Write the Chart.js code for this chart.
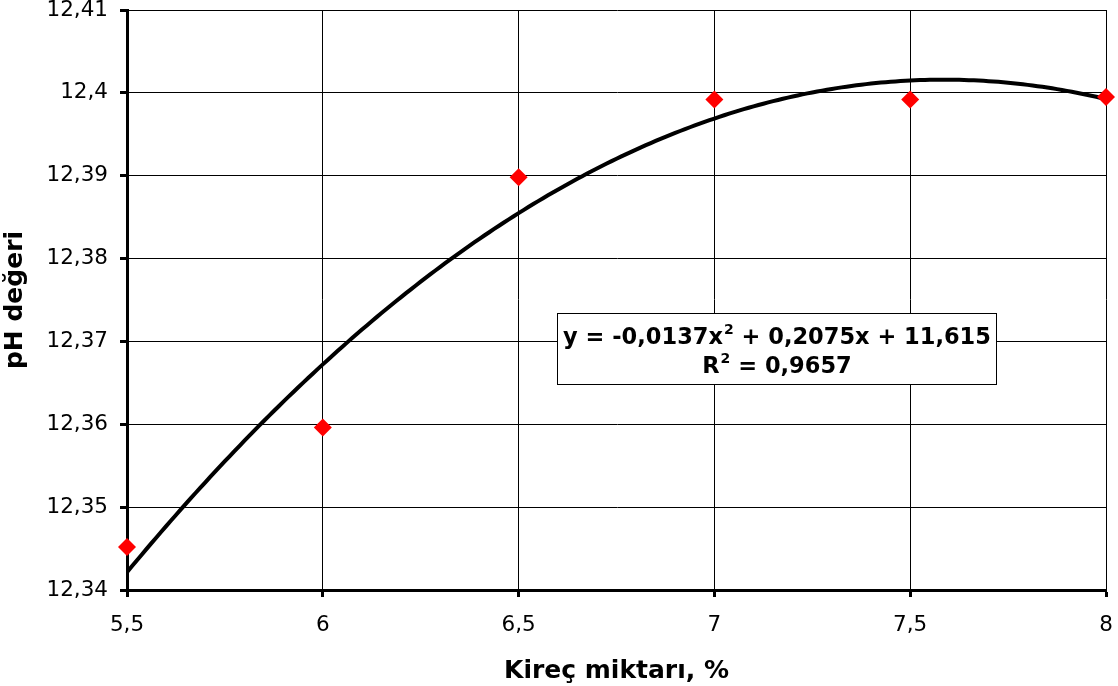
<!DOCTYPE html>
<html>
<head>
<meta charset="utf-8">
<script src="https://cdn.jsdelivr.net/npm/chart.js@4.4.0/dist/chart.umd.min.js"></script>
<style>
html,body{margin:0;padding:0;background:#fff;}
#wrap{width:1118px;height:686px;position:relative;}
</style>
</head>
<body>
<div id="wrap"><canvas id="c" width="1118" height="686"></canvas></div>
<script>
const kirecMiktari = [5.5, 6, 6.5, 7, 7.5, 8];
const phDegeri = [12.3452, 12.3596, 12.3898, 12.3992, 12.3992, 12.3995];
const xTicks = [5.5, 6, 6.5, 7, 7.5, 8];
const yTicks = [12.34, 12.35, 12.36, 12.37, 12.38, 12.39, 12.40, 12.41];
const equationText = ["y = -0,0137x", "2", " + 0,2075x + 11,615"];
const r2Text = ["R", "2", " = 0,9657"];
const xTitle = "Kireç miktarı, %";
const yTitle = "pH değeri";

// least-squares quadratic fit of the data (as the spreadsheet trendline)
function quadFit(xs, ys) {
  let S = [0,0,0,0,0], T = [0,0,0];
  for (let i = 0; i < xs.length; i++) {
    let p = 1;
    for (let k = 0; k < 5; k++) { S[k] += p; if (k < 3) T[k] += p * ys[i]; p *= xs[i]; }
  }
  const A = [[S[0],S[1],S[2],T[0]],[S[1],S[2],S[3],T[1]],[S[2],S[3],S[4],T[2]]];
  for (let i = 0; i < 3; i++) {
    for (let j = i+1; j < 3; j++) {
      const f = A[j][i] / A[i][i];
      for (let k = i; k < 4; k++) A[j][k] -= f * A[i][k];
    }
  }
  const c = [0,0,0];
  for (let i = 2; i >= 0; i--) {
    let s = A[i][3];
    for (let k = i+1; k < 3; k++) s -= A[i][k] * c[k];
    c[i] = s / A[i][i];
  }
  return c;
}
const coef = quadFit(kirecMiktari, phDegeri);
const trend = [];
const xMin = kirecMiktari[0], xMax = kirecMiktari[kirecMiktari.length-1];
for (let i = 0; i <= 200; i++) {
  const x = xMin + (xMax - xMin) * i / 200;
  trend.push({x: x, y: coef[0] + coef[1]*x + coef[2]*x*x});
}
const points = kirecMiktari.map((x, i) => ({x: x, y: phDegeri[i]}));

const FONT = "'DejaVu Sans', Verdana, sans-serif";

const boxPlugin = {
  id: 'eqbox',
  afterDraw(chart) {
    const ctx = chart.ctx;
    const ca = chart.chartArea;
    const bx = ca.left + 430, by = ca.top + 303, bw = 439, bh = 71;
    ctx.save();
    ctx.fillStyle = '#fff';
    ctx.fillRect(bx, by, bw, bh);
    ctx.strokeStyle = '#000';
    ctx.lineWidth = 1;
    ctx.strokeRect(bx + 0.5, by + 0.5, bw, bh);
    ctx.fillStyle = '#000';
    ctx.textBaseline = 'alphabetic';
    ctx.textAlign = 'left';
    const big = "bold 22.5px " + FONT, small = "bold 14px " + FONT;
    function line(parts, cy) {
      ctx.font = big; const w0 = ctx.measureText(parts[0]).width, w2 = ctx.measureText(parts[2]).width;
      ctx.font = small; const w1 = ctx.measureText(parts[1]).width;
      let x = bx + bw/2 - (w0 + w1 + w2)/2;
      ctx.font = big; ctx.fillText(parts[0], x, cy); x += w0;
      ctx.font = small; ctx.fillText(parts[1], x + 1, cy - 10); x += w1 + 1;
      ctx.font = big; ctx.fillText(parts[2], x, cy);
    }
    line(equationText, by + 31);
    line(r2Text, by + 60);
    ctx.restore();
  }
};

new Chart(document.getElementById('c'), {
  type: 'scatter',
  data: {
    datasets: [
      {
        label: 'trend',
        data: trend,
        showLine: true,
        borderColor: '#000',
        borderWidth: 4,
        pointRadius: 0,
        tension: 0,
        order: 2
      },
      {
        label: 'pH',
        data: points,
        showLine: false,
        pointStyle: 'rectRot',
        pointRadius: 9,
        pointHoverRadius: 9,
        backgroundColor: '#ff0000',
        borderColor: '#ff0000',
        borderWidth: 0,
        order: 1,
        clip: false
      }
    ]
  },
  options: {
    responsive: false,
    animation: false,
    events: [],
    layout: { padding: { top: 10, right: 12, left: 0, bottom: 0 } },
    plugins: { legend: { display: false }, tooltip: { enabled: false } },
    scales: {
      x: {
        type: 'linear',
        min: 5.5, max: 8,
        afterBuildTicks(s) { s.ticks = xTicks.map(v => ({value: v})); },
        afterFit(s) { s.height = 96; s.paddingLeft = 0; s.paddingRight = 0; },
        grid: { color: '#000', lineWidth: 1, tickLength: 7, tickWidth: 3, tickColor: '#000', drawOnChartArea: true },
        border: { display: true, color: '#000', width: 3 },
        ticks: {
          color: '#000', font: { family: FONT, size: 21.5 }, padding: 16,
          callback: v => String(v).replace('.', ',')
        },
        title: { display: true, text: xTitle, color: '#000', font: { family: FONT, size: 25, weight: 'bold' }, padding: { top: 4, bottom: 0 } }
      },
      y: {
        type: 'linear',
        min: 12.34, max: 12.41,
        afterBuildTicks(s) { s.ticks = yTicks.map(v => ({value: v})); },
        afterFit(s) { s.width = 127; s.paddingTop = 0; s.paddingBottom = 0; },
        grid: { color: '#000', lineWidth: 1, tickLength: 7, tickWidth: 3, tickColor: '#000', drawOnChartArea: true },
        border: { display: true, color: '#000', width: 3 },
        ticks: {
          color: '#000', font: { family: FONT, size: 21.5 }, padding: 12,
          callback: v => String(Math.round(v*100)/100).replace('.', ',')
        },
        title: { display: true, text: yTitle, color: '#000', font: { family: FONT, size: 25, weight: 'bold' }, padding: { top: 0, bottom: 6 } }
      }
    }
  },
  plugins: [boxPlugin]
});
</script>
</body>
</html>
